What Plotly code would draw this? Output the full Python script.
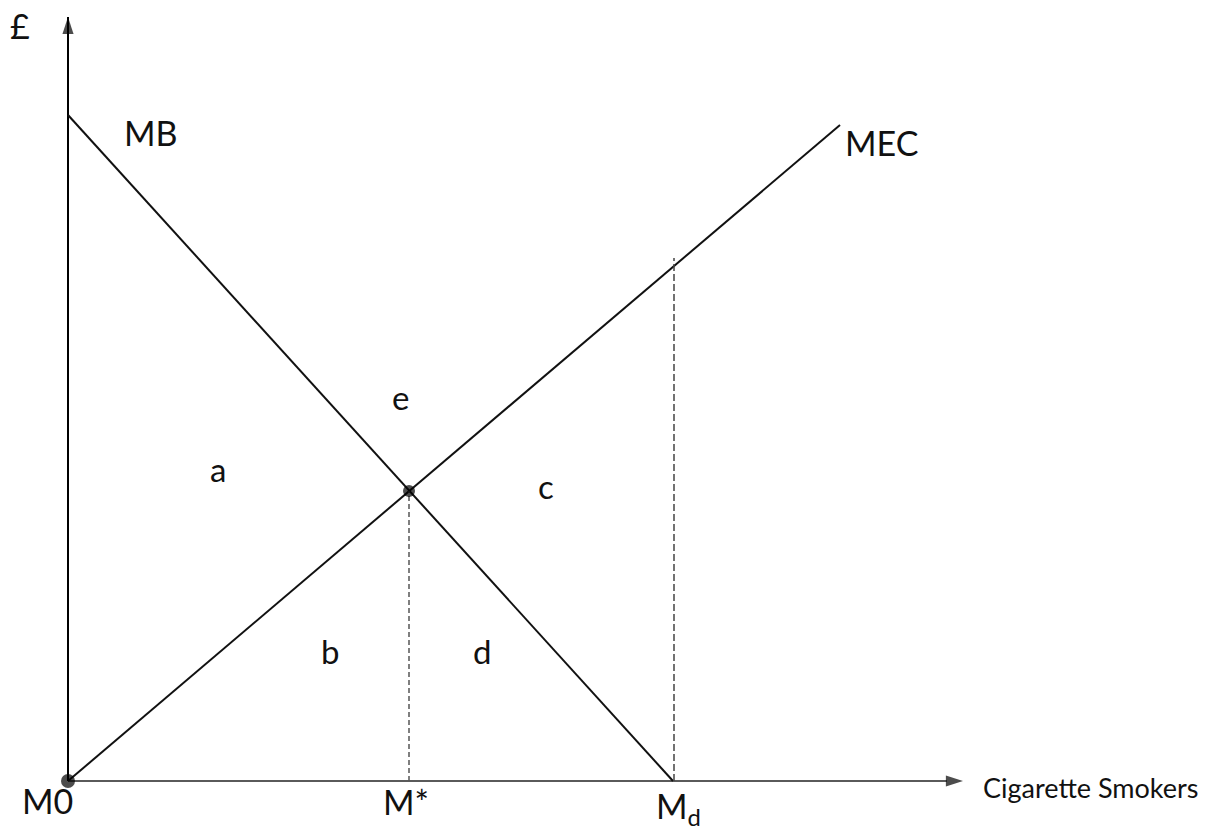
import plotly.graph_objects as go

# ---- data (economic units) ----
MB_Q = [0.0, 6.05]          # marginal benefit: from price axis down to Md
MB_P = [6.66, 0.0]
MEC_Q = [0.0, 7.72]         # marginal external cost
MEC_P = [0.0, 6.56]
EQ_Q = [3.41]               # M*
EQ_P = [2.90]
MD_Q = [6.06]               # Md dashed line
MD_TOP = [5.23]
ORIGIN_Q = [0.0]
ORIGIN_P = [0.0]
AXIS_MAX_Q = 8.95
AXIS_MAX_P = 7.64

FONT = "Lato, 'Open Sans', sans-serif"
INK = "#111111"
PAD = 0.1                    # axis padding (data units) so lines at 0 are not clipped
X_RANGE = [-PAD, AXIS_MAX_Q + PAD]
Y_RANGE = [-PAD, AXIS_MAX_P + PAD]

fig = go.Figure()

# axes drawn as lines ending in arrow markers
fig.add_trace(go.Scatter(x=[0, 0], y=[0, AXIS_MAX_P], mode="lines+markers",
                         line=dict(color="#000000", width=2),
                         marker=dict(symbol="arrow", angleref="previous", size=[0, 18],
                                     color="#000000", line=dict(width=0)),
                         cliponaxis=False, hoverinfo="skip"))
fig.add_trace(go.Scatter(x=[0, AXIS_MAX_Q], y=[0, 0], mode="lines+markers",
                         line=dict(color="#5a5a5a", width=2),
                         marker=dict(symbol="arrow", angleref="previous", size=[0, 18],
                                     color="#000000", line=dict(width=0)),
                         cliponaxis=False, hoverinfo="skip"))

fig.add_trace(go.Scatter(x=MB_Q, y=MB_P, mode="lines",
                         line=dict(color=INK, width=2), hoverinfo="skip"))
fig.add_trace(go.Scatter(x=MEC_Q, y=MEC_P, mode="lines",
                         line=dict(color=INK, width=2), hoverinfo="skip"))
fig.add_trace(go.Scatter(x=[EQ_Q[0], EQ_Q[0]], y=[0, EQ_P[0]], mode="lines",
                         line=dict(color="#555555", width=1.5, dash="5px,3px"), hoverinfo="skip"))
fig.add_trace(go.Scatter(x=[MD_Q[0], MD_Q[0]], y=[0, MD_TOP[0]], mode="lines",
                         line=dict(color="#444444", width=1.5, dash="7px,3px"), hoverinfo="skip"))
fig.add_trace(go.Scatter(x=ORIGIN_Q + EQ_Q, y=ORIGIN_P + EQ_P, mode="markers",
                         marker=dict(color="#000000", size=[14, 12], line=dict(width=0)),
                         cliponaxis=False, hoverinfo="skip"))

annotations = []

def label(text, x, y, size, xanchor="center"):
    # positions given in data units, converted to paper coordinates so labels
    # outside the axis range stay visible
    px = (x - X_RANGE[0]) / (X_RANGE[1] - X_RANGE[0])
    py = (y - Y_RANGE[0]) / (Y_RANGE[1] - Y_RANGE[0])
    annotations.append(dict(text=text, x=px, y=py,
                            xref="paper", yref="paper", showarrow=False,
                            xanchor=xanchor, yanchor="middle",
                            font=dict(family=FONT, size=size, color=INK)))

big = 34
small = 33
label("£", -0.48, 7.56, big)
label("MB", 0.83, 6.48, big)
label("MEC", 8.13, 6.38, big)
label("e", 3.32, 3.84, small)
label("a", 1.50, 3.12, small)
label("c", 4.78, 2.95, small)
label("b", 2.62, 1.30, small)
label("d", 4.14, 1.30, small)
label("M0", -0.21, -0.19, big)
label("M*", 3.38, -0.20, big)
label("M<sub>d</sub>", 6.10, -0.27, big)
label("Cigarette Smokers", 9.13, -0.06, 27, xanchor="left")

fig.update_layout(
    width=1217, height=831,
    margin=dict(l=58, r=1217 - 973, t=7, b=831 - 791, pad=0),
    plot_bgcolor="white", paper_bgcolor="white",
    showlegend=False,
    xaxis=dict(range=X_RANGE, visible=False, fixedrange=True),
    yaxis=dict(range=Y_RANGE, visible=False, fixedrange=True),
    annotations=annotations,
)

fig.write_html("out.html", post_script="document.body.style.margin='0';",
               config={"displayModeBar": False})
